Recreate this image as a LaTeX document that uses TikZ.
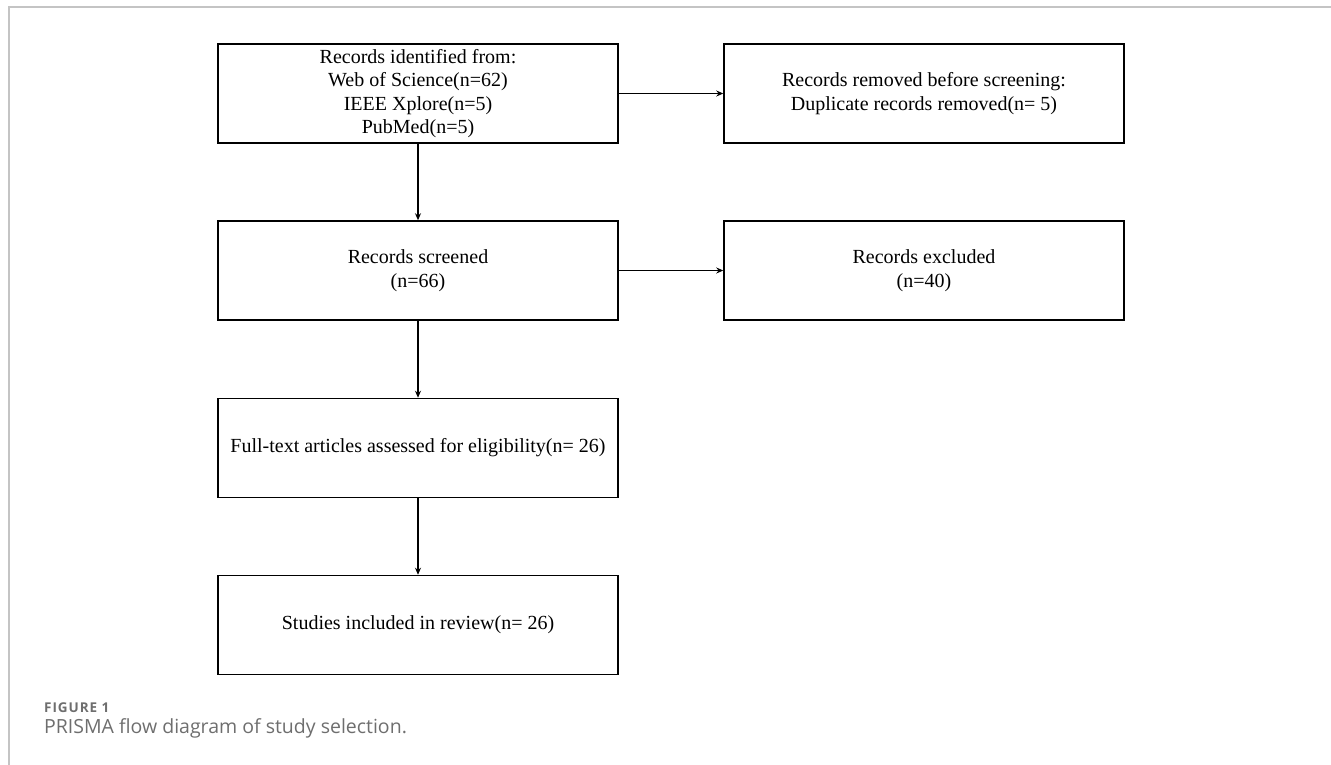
\documentclass[tikz,border=0pt]{standalone}
\usepackage{fontspec}
\setmainfont{Liberation Serif}
\newfontfamily\capfont{Open Sans}
\newfontfamily\figfont[LetterSpace=7]{Open Sans}
\usetikzlibrary{arrows.meta}
\definecolor{framegray}{HTML}{C4C4C4}
\definecolor{capgray}{HTML}{6E6E6E}
\begin{document}
\begin{tikzpicture}[x=1pt,y=-1pt,
  box/.style={draw=black, line width=1.5pt, minimum width=400pt, minimum height=99pt,
    inner sep=0pt, align=center, font=\fontsize{20}{23.5}\selectfont},
  conn/.style={line width=1.3pt, -{Stealth[length=7pt,width=6pt]}}]
\useasboundingbox (0,0) rectangle (1331,765);
\draw[framegray, line width=2pt] (9,765) -- (9,7) -- (1331,7);
\node[box] (id) at (418,93.5) {Records identified from:\\Web of Science(n=62)\\IEEE Xplore(n=5)\\PubMed(n=5)};
\node[box] (rm) at (924,93.5) {Records removed before screening:\\Duplicate records removed(n= 5)};
\node[box] (sc) at (418,270.5) {Records screened\\(n=66)};
\node[box] (ex) at (924,270.5) {Records excluded\\(n=40)};
\node[box] (ft) at (418,448) {Full-text articles assessed for eligibility(n= 26)};
\node[box] (st) at (418,625) {Studies included in review(n= 26)};
\draw[conn] (id) -- (rm);
\draw[conn] (sc) -- (ex);
\draw[conn] (id) -- (sc);
\draw[conn] (sc) -- (ft);
\draw[conn] (ft) -- (st);
\node[anchor=base west, inner sep=0pt, text=capgray, font=\figfont\bfseries\fontsize{13.5}{15}\selectfont] (fig) at (44,712.5) {FIGURE 1};
\node[anchor=base west, inner sep=0pt, text=capgray, font=\capfont\fontsize{19.5}{23}\selectfont] (cap) at (44,733) {PRISMA flow diagram of study selection.};
\end{tikzpicture}
\end{document}
